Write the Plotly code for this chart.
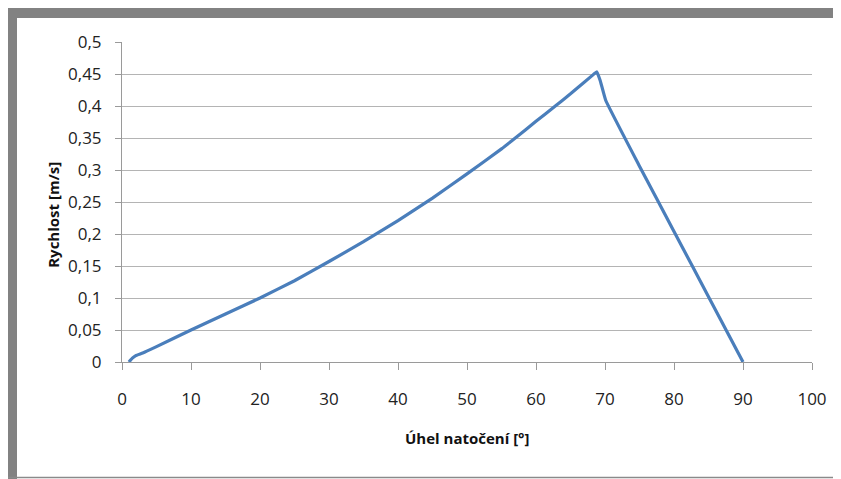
import plotly.graph_objects as go

# Data
angle_deg = [1, 1.5, 2, 3, 5, 10, 15, 20, 25, 30, 35, 40, 45, 50, 55, 57, 60,
             62.8, 65, 68.3, 68.8, 69.3, 70.1, 75, 80, 85, 90]
speed_ms = [0, 0.006, 0.010, 0.014, 0.024, 0.05, 0.075, 0.1, 0.127, 0.157, 0.188,
            0.221, 0.256, 0.294, 0.333, 0.35, 0.376, 0.4, 0.419, 0.449, 0.4536,
            0.44, 0.409, 0.306, 0.204, 0.102, 0]

x_ticks = [0, 10, 20, 30, 40, 50, 60, 70, 80, 90, 100]
y_ticks = [0, 0.05, 0.1, 0.15, 0.2, 0.25, 0.3, 0.35, 0.4, 0.45, 0.5]

x_title = "Úhel natočení [°]"
y_title = "Rychlost [m/s]"

# the page body has an 8px margin, so the figure starts at (8, 8)
OFF = 8
W, H = 841 - OFF, 479 - OFF
L, T = 122 - OFF, 42 - OFF
PW, PH = 690, 320
R, B = W - L - PW, H - T - PH

def px_x(p):  # page pixel -> paper x
    return (p - OFF - L) / PW

def px_y(p):  # page pixel -> paper y
    return (T + PH - (p - OFF)) / PH

tick_font = dict(family="Open Sans, Liberation Sans, sans-serif", size=17, color="#222222")
title_font = dict(family="Open Sans, Liberation Sans, sans-serif", size=15, color="#111111")

fig = go.Figure()
fig.add_trace(go.Scatter(
    x=angle_deg, y=speed_ms, mode="lines",
    line=dict(color="#4a7ebb", width=3.2, shape="spline", smoothing=0.3),
    hoverinfo="skip", showlegend=False,
))

fig.update_layout(
    width=W, height=H,
    margin=dict(l=L, r=R, t=T, b=B),
    paper_bgcolor="white", plot_bgcolor="white",
    separators=", ",
    showlegend=False,
    xaxis=dict(
        range=[0, 100], tickvals=x_ticks, showgrid=False, zeroline=False,
        showline=True, linecolor="#9a9a9a", linewidth=1,
        ticks="outside", ticklen=7, tickcolor="#9a9a9a", tickwidth=1,
        tickfont=tick_font, ticklabelstandoff=15,
    ),
    yaxis=dict(
        range=[0, 0.5], tickvals=y_ticks, showgrid=True, gridcolor="#b4b4b4", gridwidth=1,
        zeroline=False, showline=True, linecolor="#9a9a9a", linewidth=1,
        ticks="outside", ticklen=6, tickcolor="#9a9a9a", tickwidth=1,
        tickfont=tick_font, ticklabelstandoff=10,
    ),
    annotations=[
        dict(text="<b>" + x_title + "</b>", xref="paper", yref="paper",
             x=0.5, y=px_y(438), showarrow=False, font=title_font,
             xanchor="center", yanchor="middle"),
        dict(text="<b>" + y_title + "</b>", xref="paper", yref="paper",
             x=px_x(53), y=0.46, showarrow=False, font=title_font,
             textangle=-90, xanchor="center", yanchor="middle"),
    ],
    shapes=[
        # frame: top and left thick gray bars, bottom thin line
        dict(type="rect", xref="paper", yref="paper",
             x0=px_x(8), x1=px_x(841), y0=px_y(8), y1=px_y(18),
             fillcolor="#828282", line=dict(width=0), layer="above"),
        dict(type="rect", xref="paper", yref="paper",
             x0=px_x(8), x1=px_x(17), y0=px_y(479), y1=px_y(8),
             fillcolor="#828282", line=dict(width=0), layer="above"),
        dict(type="line", xref="paper", yref="paper",
             x0=px_x(8), x1=px_x(841), y0=px_y(477.5), y1=px_y(477.5),
             line=dict(color="#8a8a8a", width=1.5), layer="above"),
    ],
)

fig.write_html("out.html")
